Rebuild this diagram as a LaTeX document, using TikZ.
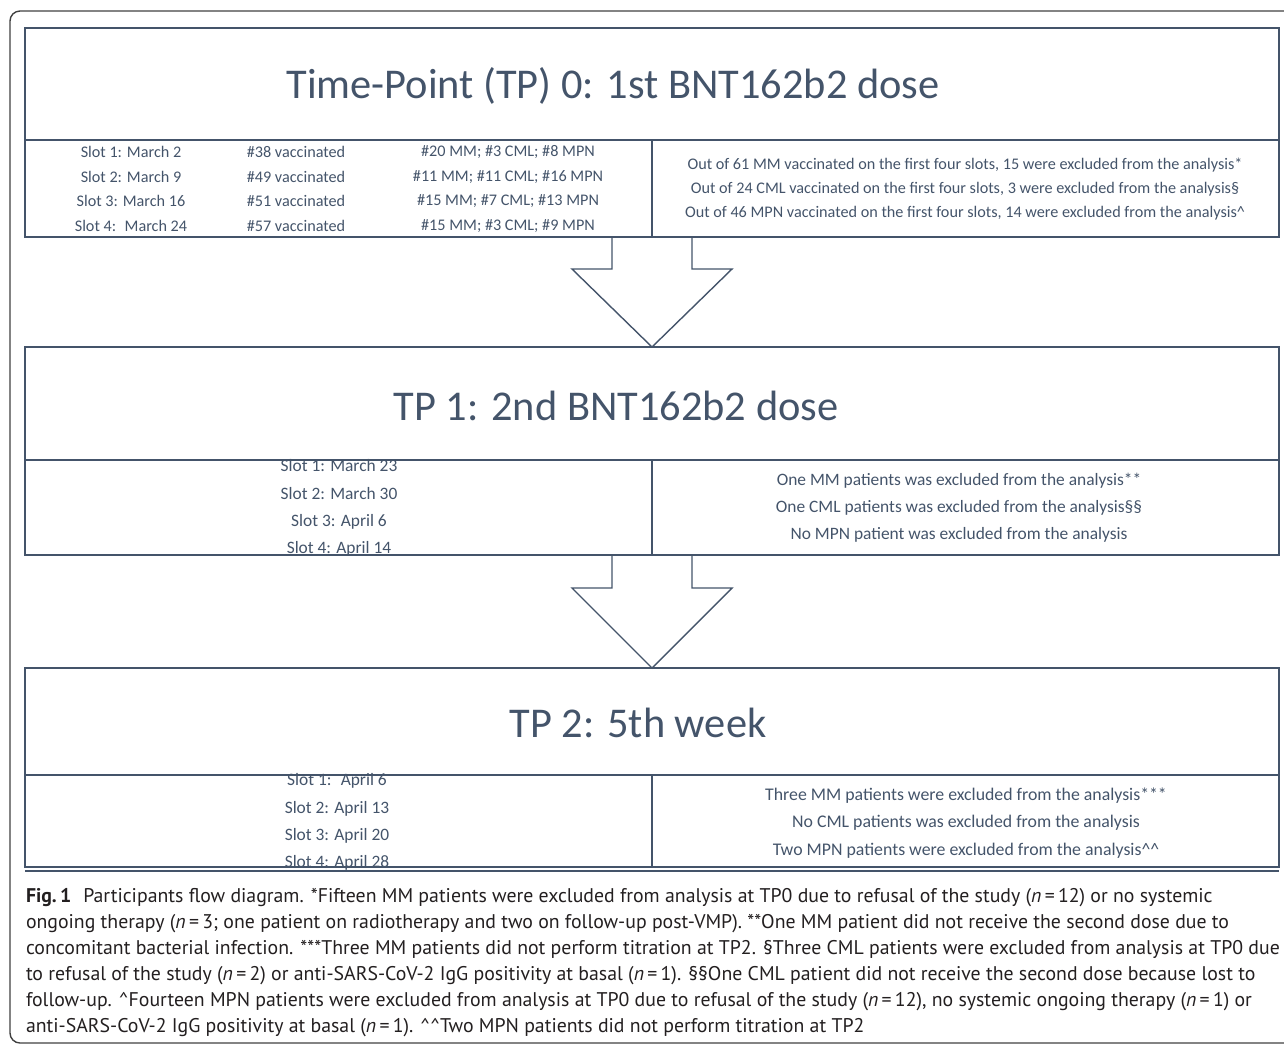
\documentclass[tikz,border=0pt]{standalone}
\usepackage{fontspec}
\setmainfont{Carlito}
\newfontfamily\capfont{PT Sans}
\usetikzlibrary{calc}
\definecolor{slate}{HTML}{44546A}
\definecolor{capink}{HTML}{231F20}
\begin{document}
\begin{tikzpicture}[x=0.5pt, y=-0.5pt,
		every node/.style = {inner sep=0, outer sep=0, text=slate},
		tpbox/.style = {draw=slate, line width=1pt, anchor=north west,
			minimum width=627pt},
		rowbox/.style = {draw=slate, line width=1pt, anchor=north west,
			minimum width=313.5pt},
		tptitle/.style = {font=\fontsize{21.2}{25}\selectfont},
		smalltext/.style = {align=center, font=\fontsize{8.1}{12.2}\selectfont},
		slotlist/.style = {align=center, font=\fontsize{8.7}{13.6}\selectfont},
		blockarrow/.style = {draw=slate, line width=0.7pt, line join=miter}]
	\useasboundingbox (0,0) rectangle (1284,1046);
	\draw[draw=black!75, line width=0.7pt, rounded corners=5pt] (10,11) rectangle (1310,1043);

	% TP0
	\node[tpbox, minimum height=56pt] (tp0) at (25,28) {};
	\node[rowbox, minimum height=48.5pt] (tp0l) at (tp0.south west) {};
	\node[rowbox, minimum height=48.5pt] (tp0r) at (tp0l.north east) {};
	\node[tptitle] (tp0t) at ($(tp0.center)+(-39,2)$) {Time-Point (TP) 0: 1st BNT162b2 dose};
	\node[smalltext] (slots0) at (131,189) {Slot 1: March 2\\Slot 2: March 9\\Slot 3: March 16\\Slot 4:~ March 24};
	\node[smalltext] (vacc0) at (296,189) {\#38 vaccinated\\\#49 vaccinated\\\#51 vaccinated\\\#57 vaccinated};
	\node[smalltext] (split0) at (508,189) {\#20 MM; \#3 CML; \#8 MPN\\\#11 MM; \#11 CML; \#16 MPN\\\#15 MM; \#7 CML; \#13 MPN\\\#15 MM; \#3 CML; \#9 MPN};
	\node[smalltext] (excl0) at (965,189) {Out of 61 MM vaccinated on the first four slots, 15 were excluded from the analysis*\\
		Out of 24 CML vaccinated on the first four slots, 3 were excluded from the analysis§\\
		Out of 46 MPN vaccinated on the first four slots, 14 were excluded from the analysis\textasciicircum};

	% TP1
	\node[tpbox, minimum height=56.5pt] (tp1) at (25,347) {};
	\node[rowbox, minimum height=47.5pt] (tp1l) at (tp1.south west) {};
	\node[rowbox, minimum height=47.5pt] (tp1r) at (tp1l.north east) {};
	\node[tptitle] (tp1t) at ($(tp1.center)+(-36,2)$) {TP 1: 2nd BNT162b2 dose};
	\node[slotlist] (slots1) at (339,508) {Slot 1: March 23\\Slot 2: March 30\\Slot 3: April 6\\Slot 4: April 14};
	\node[slotlist] (excl1) at (959,508) {One MM patients was excluded from the analysis**\\
		One CML patients was excluded from the analysis§§\\
		No MPN patient was excluded from the analysis};

	% TP2
	\node[tpbox, minimum height=53.5pt] (tp2) at (25,668) {};
	\node[rowbox, minimum height=46pt] (tp2l) at (tp2.south west) {};
	\node[rowbox, minimum height=46pt] (tp2r) at (tp2l.north east) {};
	\node[tptitle] (tp2t) at ($(tp2.center)+(-14,1)$) {TP 2: 5th week};
	\node[slotlist] (slots2) at (337,822) {Slot 1:~ April 6\\Slot 2: April 13\\Slot 3: April 20\\Slot 4: April 28};
	\node[slotlist, font=\fontsize{8.9}{13.6}\selectfont] (excl2) at (966,823) {Three MM patients were excluded from the analysis***\\
		No CML patients was excluded from the analysis\\
		Two MPN patients were excluded from the analysis\textasciicircum\textasciicircum};
	\draw[draw=slate, line width=1pt] ($(tp2l.south west)+(0,4)$) -- ($(tp2r.south east)+(0,4)$);

	% block arrows
	\draw[blockarrow] ($(tp0l.south east)+(-40,0)$) -- ++(0,32) -- ++(-40,0)
		-- (tp1.north -| tp0l.south east) -- ++(80,-78) -- ++(-40,0) -- ++(0,-32);
	\draw[blockarrow] ($(tp1l.south east)+(-40,0)$) -- ++(0,33) -- ++(-40,0)
		-- (tp2.north -| tp1l.south east) -- ++(80,-80) -- ++(-40,0) -- ++(0,-33);

	% caption
	\node[anchor=north west, align=left, text=capink,
		font=\capfont\fontsize{9.9}{13}\selectfont] (caption) at (26,888) {%
		\textbf{Fig.\,1}\hspace{0.6em}Participants flow diagram. *Fifteen MM patients were excluded from analysis at TP0 due to refusal of the study ({\itshape n}\,=\,12) or no systemic\\
		ongoing therapy ({\itshape n}\,=\,3; one patient on radiotherapy and two on follow-up post-VMP). **One MM patient did not receive the second dose due to\\
		concomitant bacterial infection. ***Three MM patients did not perform titration at TP2. §Three CML patients were excluded from analysis at TP0 due\\
		to refusal of the study ({\itshape n}\,=\,2) or anti-SARS-CoV-2 IgG positivity at basal ({\itshape n}\,=\,1). §§One CML patient did not receive the second dose because lost to\\
		follow-up. \textasciicircum Fourteen MPN patients were excluded from analysis at TP0 due to refusal of the study ({\itshape n}\,=\,12), no systemic ongoing therapy ({\itshape n}\,=\,1) or\\
		anti-SARS-CoV-2 IgG positivity at basal ({\itshape n}\,=\,1). \textasciicircum\textasciicircum Two MPN patients did not perform titration at TP2};
\end{tikzpicture}
\end{document}
